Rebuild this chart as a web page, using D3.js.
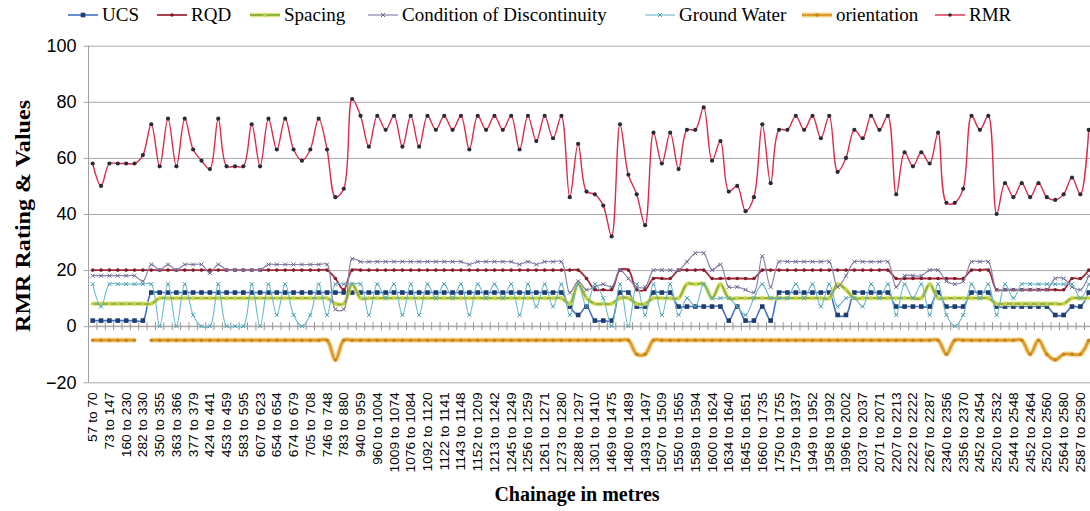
<!DOCTYPE html>
<html>
<head>
<meta charset="utf-8">
<script src="https://cdn.jsdelivr.net/npm/d3@7"></script>
<style>
  body { margin: 0; background: #fff; }
  svg { display: block; }
</style>
</head>
<body>
<div id="chart"></div>
<script>
// chainage labels, shown on every second section
var tickLabels = ["57 to 70","73 to 147","160 to 230","282 to 330","350 to 355","363 to 366","377 to 379","424 to 441","453 to 459","583 to 595",
  "607 to 623","654 to 654","674 to 679","705 to 708","746 to 748","783 to 880","940 to 959","960 to 1004","1009 to 1074","1076 to 1084",
  "1092 to 1120","1122 to 1141","1143 to 1148","1152 to 1209","1213 to 1242","1245 to 1249","1256 to 1259","1261 to 1271","1273 to 1280","1288 to 1297",
  "1301 to 1410","1469 to 1475","1480 to 1489","1493 to 1497","1507 to 1509","1550 to 1565","1589 to 1594","1600 to 1624","1634 to 1640","1645 to 1651",
  "1660 to 1735","1750 to 1755","1759 to 1937","1949 to 1952","1958 to 1992","1996 to 2002","2037 to 2037","2071 to 2071","2207 to 2213","2222 to 2222",
  "2267 to 2287","2340 to 2356","2356 to 2370","2452 to 2454","2520 to 2532","2544 to 2548","2452 to 2464","2520 to 2560","2564 to 2580","2587 to 2590"];

var yTicks = [-20, 0, 20, 40, 60, 80, 100];

var ucs = [2,2,2,2,2,2,2,12,12,12, 12,12,12,12,12,12,12,12,12,12, 12,12,12,12,12,12,12,12,12,12,
  12,12,12,12,12,12,12,12,12,12, 12,12,12,12,12,12,12,12,12,12, 12,12,12,12,12,12,12,7,4,7,
  2,2,2,12,12,7,7,12,12,12, 7,7,7,7,7,7,2,7,2,2, 7,2,12,12,12,12,12,12,12,4,
  4,12,12,12,12,12,7,7,7,7, 7,12,7,7,7,12,12,12,7,7, 7,7,7,7,7,4,4,7,7,12];

var rqd = [20,20,20,20,20,20,20,20,20,20, 20,20,20,20,20,20,20,20,20,20, 20,20,20,20,20,20,20,20,20,17,
  13,20,20,20,20,20,20,20,20,20, 20,20,20,20,20,20,20,20,20,20, 20,20,20,20,20,20,20,20,20,17,
  13,13,13,20,20,13,13,17,17,17, 20,20,20,20,17,17,17,17,17,17, 20,20,20,20,20,20,20,20,20,20,
  20,20,20,20,20,20,17,17,17,17, 17,17,17,17,17,20,20,20,13,13, 13,13,13,13,13,13,13,17,17,20];

var spacing = [8,8,8,8,8,8,8,8,10,10, 10,10,10,10,10,10,10,10,10,10, 10,10,10,10,10,10,10,10,10,8,
  8,15,10,10,10,10,10,10,10,10, 10,10,10,10,10,10,10,10,10,10, 10,10,10,10,10,10,10,8,15,10,
  8,8,8,10,10,8,8,10,10,10, 10,15,15,15,10,15,10,10,10,10, 10,10,10,10,10,10,10,10,10,15,
  13,10,10,10,10,10,10,10,10,10, 15,10,10,10,10,10,10,10,8,8, 8,8,8,8,8,8,8,10,10,10];

var condition = [18,18,18,18,18,18,16,22,20,22, 20,22,22,22,19,22,20,20,20,20, 20,22,22,22,22,22,22,22,22,6,
  6,24,23,23,23,23,23,23,23,23, 23,23,23,23,23,22,23,23,23,23, 23,22,23,22,23,23,23,12,16,13,
  14,15,14,20,17,14,14,20,20,20, 20,23,26,26,20,22,14,14,13,12, 25,14,23,23,23,23,23,23,23,14,
  18,23,23,23,23,23,14,18,18,18, 20,20,16,15,16,23,23,23,13,13, 13,13,13,13,13,17,17,14,13,18];

var groundWater = [15,7,15,15,15,15,15,15,0,15, 0,15,4,0,0,15,0,0,0,15, 0,15,4,15,4,0,4,15,4,15,
  15,15,15,4,15,10,15,4,15,4, 15,10,15,10,15,4,15,10,15,10, 15,4,15,7,15,7,15,4,15,7,
  15,10,0,15,0,15,4,15,4,15, 4,10,7,15,10,10,10,7,4,10, 15,10,10,10,15,10,15,7,15,7,
  10,10,7,15,10,15,4,15,10,15, 4,15,4,0,4,15,10,15,4,15, 10,15,15,15,15,15,15,15,10,15];

var orientation = [-5,-5,-5,-5,-5,-5,null,-5,-5,-5, -5,-5,-5,-5,-5,-5,-5,-5,-5,-5, -5,-5,-5,-5,-5,-5,-5,-5,-5,-12,
  -5,-5,-5,-5,-5,-5,-5,-5,-5,-5, -5,-5,-5,-5,-5,-5,-5,-5,-5,-5, -5,-5,-5,-5,-5,-5,-5,-5,-5,-5,
  -5,-5,-5,-5,-5,-10,-10,-5,-5,-5, -5,-5,-5,-5,-5,-5,-5,-5,-5,-5, -5,-5,-5,-5,-5,-5,-5,-5,-5,-5,
  -5,-5,-5,-5,-5,-5,-5,-5,-5,-5, -5,-5,-10,-5,-5,-5,-5,-5,-5,-5, -5,-5,-10,-5,-10,-12,-10,-10,-10,-5];

var rmr = [58,50,58,58,58,58,61,72,57,74, 57,74,63,59,56,74,57,57,57,72, 57,74,63,74,63,59,63,74,63,46,
  49,81,75,64,75,70,75,64,75,64, 75,70,75,70,75,63,75,70,75,70, 75,63,75,66,75,67,75,46,65,48,
  47,43,32,72,54,47,36,69,58,69, 56,70,70,78,59,66,48,50,41,46, 72,51,70,70,75,70,75,67,75,55,
  60,70,67,75,70,75,47,62,57,62, 58,69,44,44,49,75,70,75,40,51, 46,51,46,51,46,45,47,53,47,70];

var seriesNames = ["UCS", "RQD", "Spacing", "Condition of Discontinuity", "Ground Water", "orientation", "RMR"];

var series = [
  {name: "UCS", values: ucs, color: "#4472c4", width: 1.6, marker: "square", mcolor: "#1f3c6e"},
  {name: "RQD", values: rqd, color: "#a52a3c", width: 1.8, marker: "dot", mcolor: "#7d1d2c"},
  {name: "Spacing", values: spacing, color: "#8fb43e", width: 2.4, marker: "dot", mcolor: "#c7d24c", glow: "#e9ea7c"},
  {name: "Condition of Discontinuity", values: condition, color: "#8a80aa", width: 1.2, marker: "cross", mcolor: "#6e6690"},
  {name: "Ground Water", values: groundWater, color: "#6bb9cb", width: 1.1, marker: "cross", mcolor: "#4a9cb0"},
  {name: "orientation", values: orientation, color: "#dc9a2c", width: 2.8, marker: "dot", mcolor: "#c78420", glow: "#f2d27a"},
  {name: "RMR", values: rmr, color: "#dd2a48", width: 1.4, marker: "dot", mcolor: "#2d2a38"}
];

// layout
var margin = {top: 45.7, left: 88.5};
var width = 1004.4, height = 336.6;

var svg = d3.select("#chart").append("svg")
    .attr("width", 1090)
    .attr("height", 511);

var g = svg.append("g")
    .attr("transform", "translate(" + margin.left + "," + margin.top + ")");

var x = d3.scaleBand()
    .domain(d3.range(rmr.length))
    .range([0, width]);

var y = d3.scaleLinear()
    .domain([-20, 100])
    .range([height, 0]);

function cx(i) { return x(i) + x.bandwidth() / 2; }

// gridlines + y labels
var yAxis = g.append("g")
    .call(d3.axisLeft(y).tickValues(yTicks).tickSize(-width).tickPadding(12).tickFormat(d3.format("d")));
yAxis.select(".domain").remove();
yAxis.selectAll(".tick line").attr("stroke", "#a8a8a8").attr("x1", -5);
yAxis.selectAll(".tick text")
    .style("font-family", "'Liberation Sans', Arial, sans-serif")
    .style("font-size", "18px")
    .attr("fill", "#000");

g.append("line")
    .attr("x1", 0).attr("x2", 0)
    .attr("y1", 0).attr("y2", height)
    .attr("stroke", "#a0a0a0");

// category axis crossing at zero, with cross tick marks
g.append("line")
    .attr("x1", 0).attr("x2", width)
    .attr("y1", y(0)).attr("y2", y(0))
    .attr("stroke", "#a0a0a0");

g.selectAll("line.xtick")
    .data(d3.range(rmr.length + 1))
    .enter()
    .append("line")
    .attr("class", "xtick")
    .attr("x1", function(d) { return d < rmr.length ? x(d) : width; })
    .attr("x2", function(d) { return d < rmr.length ? x(d) : width; })
    .attr("y1", y(0) - 4)
    .attr("y2", y(0) + 4)
    .attr("stroke", "#999");

// tick labels at the bottom
var labelIdx = d3.range(0, rmr.length, 2);
g.selectAll("text.xlab")
    .data(labelIdx)
    .enter()
    .append("text")
    .attr("class", "xlab")
    .attr("transform", function(d) { return "translate(" + (cx(d) + 4.5) + "," + (height + 10) + ") rotate(-90) scale(1.1,1)"; })
    .attr("text-anchor", "end")
    .style("font-family", "'Liberation Sans', Arial, sans-serif")
    .style("font-size", "12.5px")
    .attr("fill", "#000")
    .text(function(d) { return tickLabels[d / 2]; });

// lines
var line = d3.line()
    .defined(function(d) { return d != null; })
    .x(function(d, i) { return cx(i); })
    .y(function(d) { return y(d); })
    .curve(d3.curveCatmullRom.alpha(0.5));

series.forEach(function(s) {
  var sg = g.append("g");
  if (s.glow) {
    sg.append("path")
        .attr("d", line(s.values))
        .attr("fill", "none")
        .attr("stroke", s.glow)
        .attr("stroke-width", s.width + 2.5)
        .attr("stroke-opacity", 0.7);
  }
  sg.append("path")
      .attr("d", line(s.values))
      .attr("fill", "none")
      .attr("stroke", s.color)
      .attr("stroke-width", s.width);

  var pts = s.values.map(function(v, i) { return {v: v, i: i}; })
      .filter(function(p) { return p.v != null; });

  if (s.marker === "square") {
    sg.selectAll("rect").data(pts).enter().append("rect")
        .attr("x", function(p) { return cx(p.i) - 2.3; })
        .attr("y", function(p) { return y(p.v) - 2.3; })
        .attr("width", 4.6).attr("height", 4.6)
        .attr("fill", s.mcolor);
  } else if (s.marker === "dot") {
    sg.selectAll("circle").data(pts).enter().append("circle")
        .attr("cx", function(p) { return cx(p.i); })
        .attr("cy", function(p) { return y(p.v); })
        .attr("r", s.name === "RMR" ? 2.1 : 1.8)
        .attr("fill", s.mcolor);
  } else {
    sg.selectAll("path.m").data(pts).enter().append("path")
        .attr("class", "m")
        .attr("d", function(p) {
          var px = cx(p.i), py = y(p.v);
          return "M" + (px - 2) + "," + (py - 2) + "L" + (px + 2) + "," + (py + 2) +
                 "M" + (px - 2) + "," + (py + 2) + "L" + (px + 2) + "," + (py - 2);
        })
        .attr("stroke", s.mcolor)
        .attr("stroke-width", 1);
  }
});

// legend
var legendX = [68, 157, 250, 368, 645, 802, 935];
var legend = svg.append("g");
series.forEach(function(s, k) {
  var lg = legend.append("g").attr("transform", "translate(" + legendX[k] + ",15)");
  if (s.glow) {
    lg.append("line").attr("x1", 0).attr("x2", 30).attr("y1", 0).attr("y2", 0)
        .attr("stroke", s.glow).attr("stroke-width", s.width + 2.5).attr("stroke-opacity", 0.7);
  }
  lg.append("line").attr("x1", 0).attr("x2", 30).attr("y1", 0).attr("y2", 0)
      .attr("stroke", s.color).attr("stroke-width", Math.min(s.width, 2.4));
  if (s.marker === "square") {
    lg.append("rect").attr("x", 12.7).attr("y", -2.3).attr("width", 4.6).attr("height", 4.6).attr("fill", s.mcolor);
  } else if (s.marker === "dot") {
    lg.append("circle").attr("cx", 15).attr("cy", 0).attr("r", 1.8).attr("fill", s.mcolor);
  } else {
    lg.append("path").attr("d", "M13,-2L17,2M13,2L17,-2").attr("stroke", s.mcolor);
  }
  lg.append("text")
      .attr("x", 34)
      .attr("y", 6)
      .style("font-family", "'Liberation Serif', 'Times New Roman', serif")
      .style("font-size", "19px")
      .attr("fill", "#000")
      .text(seriesNames[k]);
});

// axis titles
svg.append("text")
    .attr("transform", "translate(30,216) rotate(-90)")
    .attr("text-anchor", "middle")
    .attr("textLength", 232)
    .attr("lengthAdjust", "spacingAndGlyphs")
    .style("font-family", "'Liberation Serif', 'Times New Roman', serif")
    .style("font-size", "21px")
    .style("font-weight", "bold")
    .text("RMR Rating & Values");

svg.append("text")
    .attr("x", 577)
    .attr("y", 501)
    .attr("text-anchor", "middle")
    .style("font-family", "'Liberation Serif', 'Times New Roman', serif")
    .style("font-size", "20px")
    .style("font-weight", "bold")
    .text("Chainage in metres");
</script>
</body>
</html>
